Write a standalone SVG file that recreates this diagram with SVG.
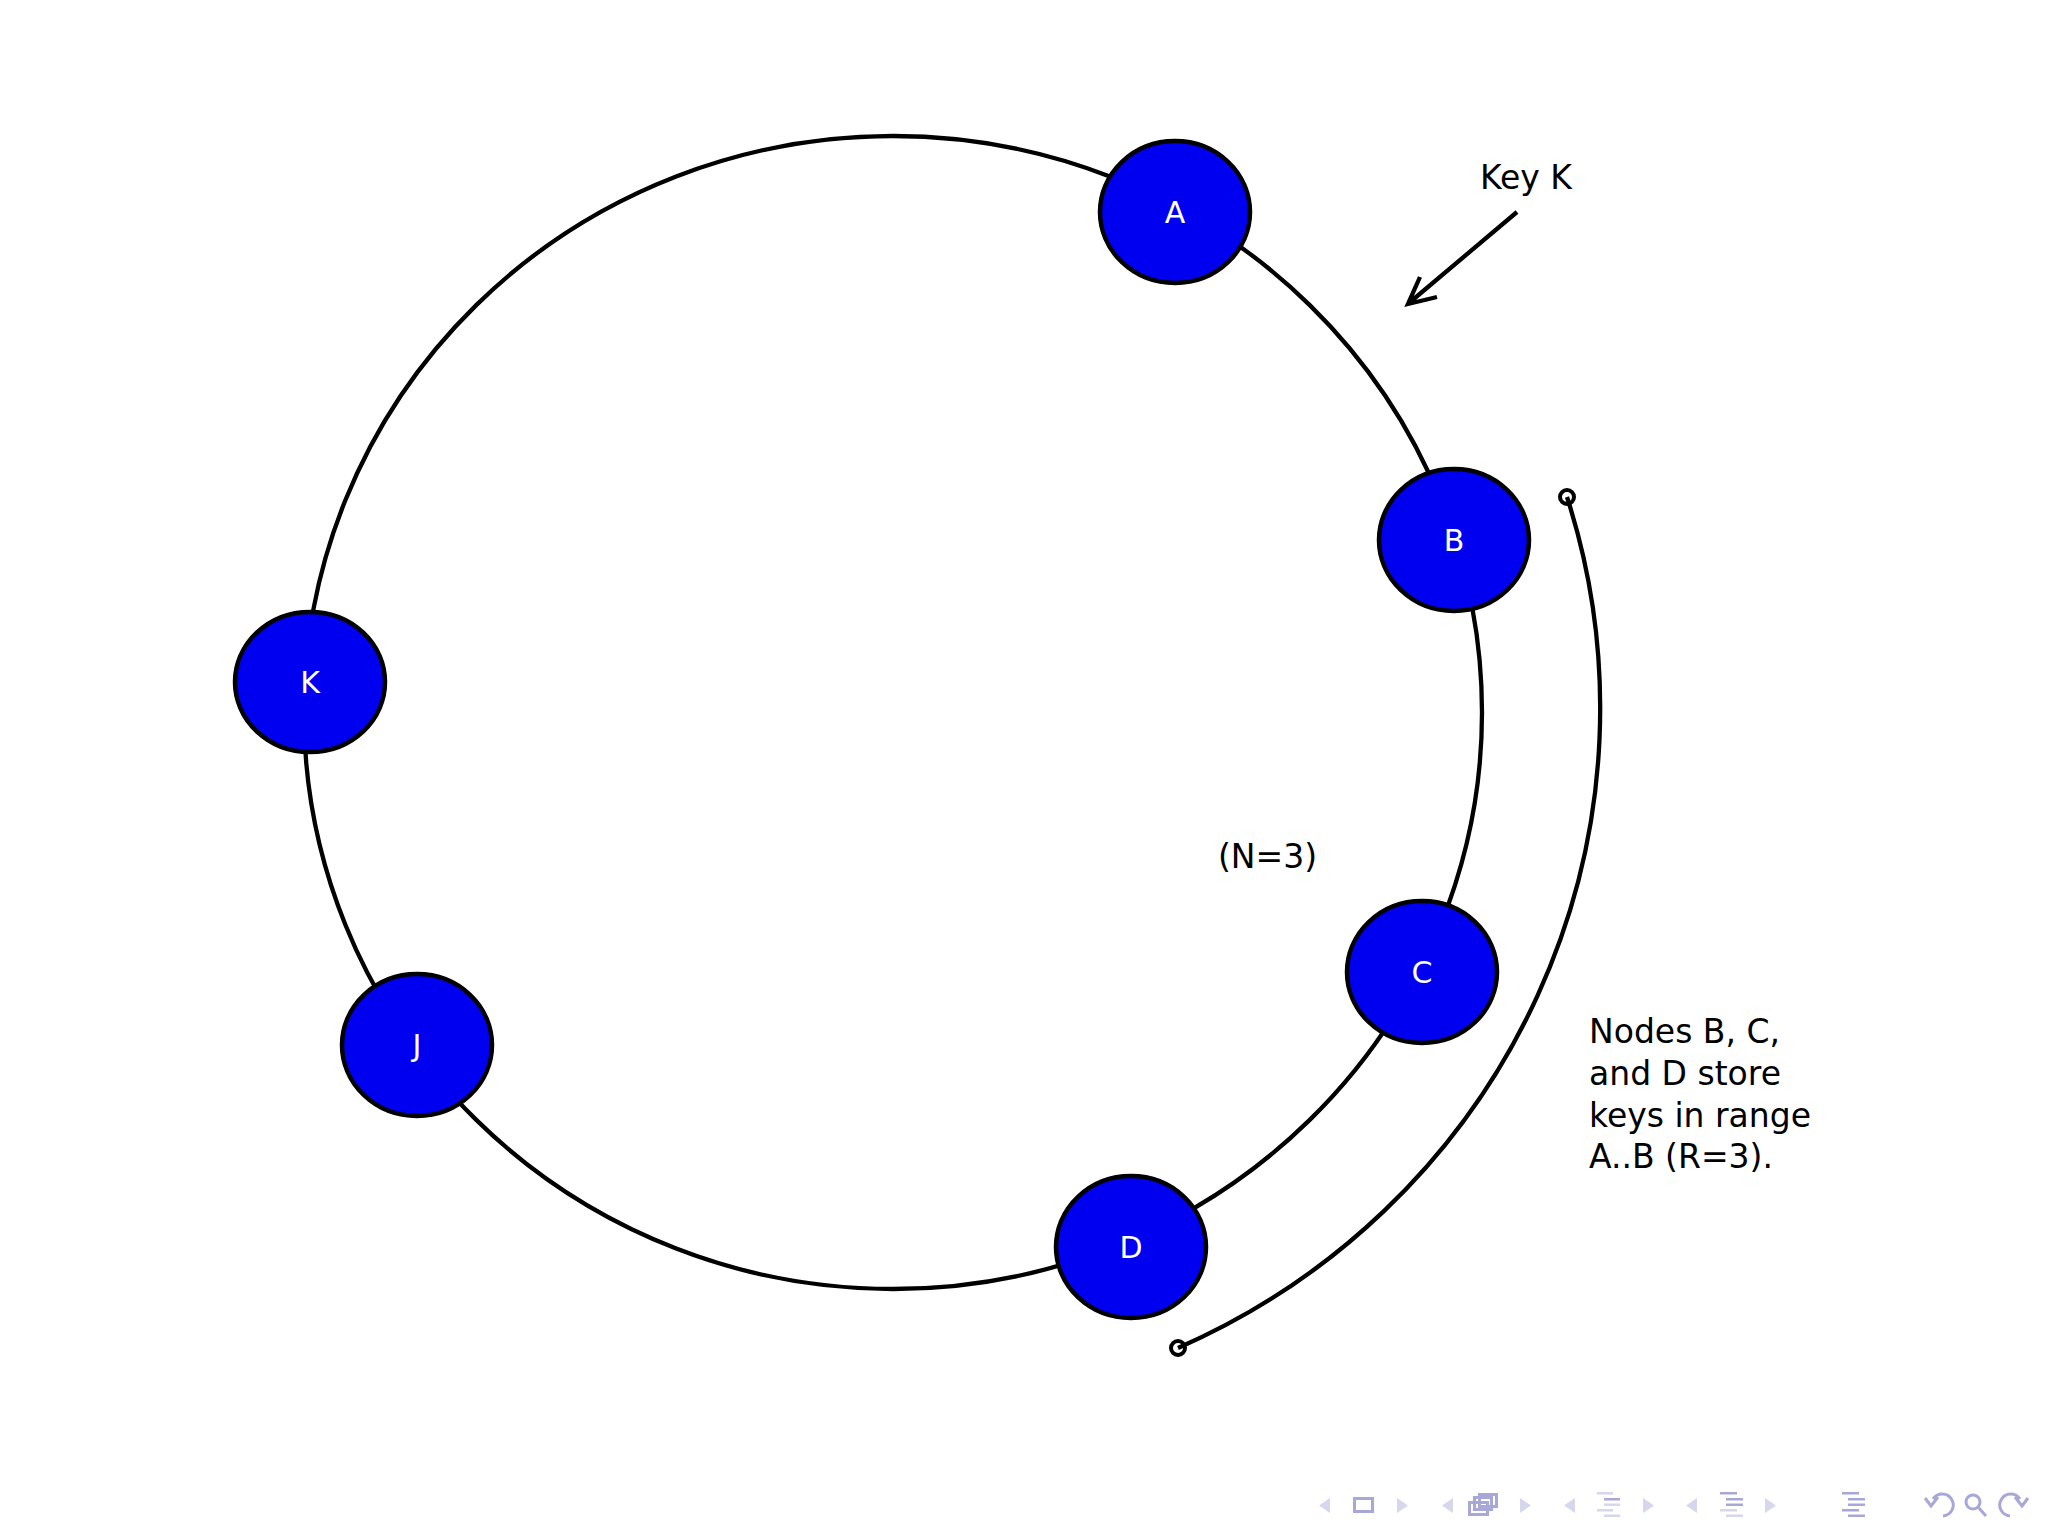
<svg xmlns="http://www.w3.org/2000/svg" width="2048" height="1536" viewBox="0 0 2048 1536">
<style>
.node{fill:#0000f0;stroke:#000;stroke-width:4.5}
.nl{font-family:"DejaVu Sans",sans-serif;font-size:30px;fill:#fff;text-anchor:middle}
.t{font-family:"DejaVu Sans",sans-serif;font-size:33px;fill:#000}
.line{fill:none;stroke:#000;stroke-width:4.3}
.navl{fill:#d6d6ec}
.navd{fill:none;stroke:#a8a8d8;stroke-width:3}
.navb{fill:#a8a8d8}
</style>
<rect width="2048" height="1536" fill="#fff"/>
<g id="connectors">
<ellipse class="line" cx="893" cy="712.5" rx="589" ry="576.5"/>
<path class="line" d="M 1567 497 A 711 700 0 0 1 1178 1348"/>
<circle cx="1567" cy="497" r="7" fill="none" stroke="#000" stroke-width="4"/>
<circle cx="1178" cy="1348" r="7" fill="none" stroke="#000" stroke-width="4"/>
<path class="line" d="M 1517 212 L 1409 303 M 1420 277 L 1408 304 L 1437 297" stroke-width="4.5"/>
</g>
<g id="node-A"><ellipse class="node" cx="1175" cy="212" rx="75" ry="71"/><text class="nl" x="1175" y="223">A</text></g>
<g id="node-B"><ellipse class="node" cx="1454" cy="540" rx="75" ry="71"/><text class="nl" x="1454" y="551">B</text></g>
<g id="node-C"><ellipse class="node" cx="1422" cy="972" rx="75" ry="71"/><text class="nl" x="1422" y="983">C</text></g>
<g id="node-D"><ellipse class="node" cx="1131" cy="1247" rx="75" ry="71"/><text class="nl" x="1131" y="1258">D</text></g>
<g id="node-J"><ellipse class="node" cx="417" cy="1045" rx="75" ry="71"/><text class="nl" x="417" y="1056">J</text></g>
<g id="node-K"><ellipse class="node" cx="310" cy="682" rx="75" ry="70"/><text class="nl" x="310" y="693">K</text></g>
<g id="labels">
<text class="t" x="1480" y="189">Key K</text>
<text class="t" x="1218" y="868">(N=3)</text>
<text class="t" x="1589" y="1043">Nodes B, C,</text>
<text class="t" x="1589" y="1085">and D store</text>
<text class="t" x="1589" y="1127">keys in range</text>
<text class="t" x="1589" y="1168">A..B (R=3).</text>
</g>
<g id="nav">
<polygon class="navl" points="1330,1498 1319,1505.5 1330,1513"/>
<rect class="navd" x="1354.5" y="1498.5" width="18" height="13"/>
<polygon class="navl" points="1397,1498 1408,1505.5 1397,1513"/>
<polygon class="navl" points="1453,1498 1442,1505.5 1453,1513"/>
<rect class="navd" x="1479.5" y="1494.5" width="17" height="12" fill="#fff"/>
<rect class="navd" x="1474.5" y="1497.5" width="17" height="12" fill="#fff"/>
<rect class="navd" x="1469.5" y="1502.5" width="18" height="12" fill="#fff"/>
<polygon class="navl" points="1520,1498 1531,1505.5 1520,1513"/>
<polygon class="navl" points="1575,1498 1564,1505.5 1575,1513"/>
<rect class="navl" x="1597" y="1492" width="16" height="2.5"/><rect class="navb" x="1604" y="1498" width="16" height="2.5"/><rect class="navl" x="1604" y="1503.5" width="16" height="2.5"/><rect class="navl" x="1597" y="1509" width="16" height="2.5"/><rect class="navl" x="1604" y="1514.5" width="16" height="2.5"/>
<polygon class="navl" points="1643,1498 1654,1505.5 1643,1513"/>
<polygon class="navl" points="1697,1498 1686,1505.5 1697,1513"/>
<rect class="navb" x="1720" y="1492" width="17" height="2.5"/><rect class="navb" x="1726" y="1498" width="17" height="2.5"/><rect class="navb" x="1726" y="1503.5" width="17" height="2.5"/><rect class="navl" x="1720" y="1509" width="17" height="2.5"/><rect class="navl" x="1726" y="1514.5" width="17" height="2.5"/>
<polygon class="navl" points="1765,1498 1776,1505.5 1765,1513"/>
<rect class="navb" x="1842" y="1492" width="17" height="2.5"/><rect class="navb" x="1848" y="1498" width="17" height="2.5"/><rect class="navb" x="1848" y="1503.5" width="17" height="2.5"/><rect class="navb" x="1842" y="1509" width="17" height="2.5"/><rect class="navb" x="1848" y="1514.5" width="17" height="2.5"/>
<path class="navd" d="M 1933 1499 A 11 11 0 1 1 1943 1516 M 1925 1498 L 1931 1506 L 1938 1497" stroke-width="2.5"/>
<circle class="navd" cx="1973" cy="1502" r="7" stroke-width="2.5"/>
<path class="navd" d="M 1978 1507 L 1986 1516" stroke-width="3"/>
<path class="navd" d="M 2020 1499 A 11 11 0 1 0 2010 1516 M 2028 1498 L 2022 1506 L 2015 1497" stroke-width="2.5"/>
</g>
</svg>
